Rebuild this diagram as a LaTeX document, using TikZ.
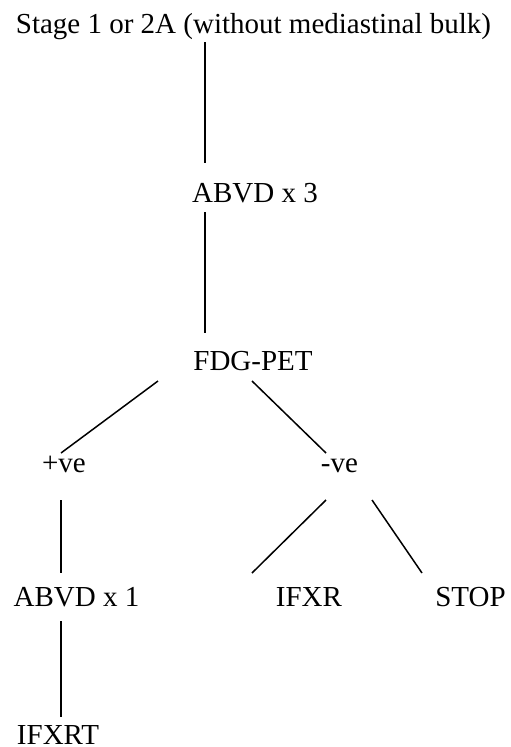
\documentclass[tikz,border=0pt]{standalone}
\usepackage{fontspec}
\setmainfont{Liberation Serif}
\usetikzlibrary{calc}

\begin{document}
\begin{tikzpicture}[
    x=1pt, y=-1pt,
    lbl/.style={inner sep=0pt, anchor=base, font=\fontsize{29}{34}\selectfont},
    link/.style={line width=1.5pt},
]
  \useasboundingbox (0,0) rectangle (511,747);

  % treatment tree labels
  \node[lbl] (stage) at (253.5,33)  {Stage 1 or 2A (without mediastinal bulk)};
  \node[lbl] (abvd3) at (255,202)   {ABVD x 3};
  \node[lbl] (pet)   at (253,370)   {FDG-PET};
  \node[lbl] (pos)   at (64,472)    {+ve};
  \node[lbl] (neg)   at (339.5,472) {-ve};
  \node[lbl] (abvd1) at (76.5,606)  {ABVD x 1};
  \node[lbl] (ifxr)  at (309,606)   {IFXR};
  \node[lbl] (stop)  at (470.5,606) {STOP};
  \node[lbl] (ifxrt) at (58,744)    {IFXRT};

  % branches
  \draw[link] ($(stage.base)+(-48.5,9)$) -- ($(abvd3.base)+(-50,-39)$);
  \draw[link] ($(abvd3.base)+(-50,10)$)  -- ($(pet.base)+(-48,-37)$);
  \draw[link] ($(pet.base)+(-95,11)$)    -- ($(pos.base)+(-3,-19)$);
  \draw[link] ($(pet.base)+(-1,11)$)     -- ($(neg.base)+(-13.5,-19)$);
  \draw[link] ($(pos.base)+(-3,28)$)     -- ($(abvd1.base)+(-15.5,-33)$);
  \draw[link] ($(neg.base)+(-13.5,28)$)  -- ($(ifxr.base)+(-57,-33)$);
  \draw[link] ($(neg.base)+(32.5,28)$)   -- ($(stop.base)+(-48.5,-33)$);
  \draw[link] ($(abvd1.base)+(-15.5,15)$) -- ($(ifxrt.base)+(3,-27)$);
\end{tikzpicture}
\end{document}
